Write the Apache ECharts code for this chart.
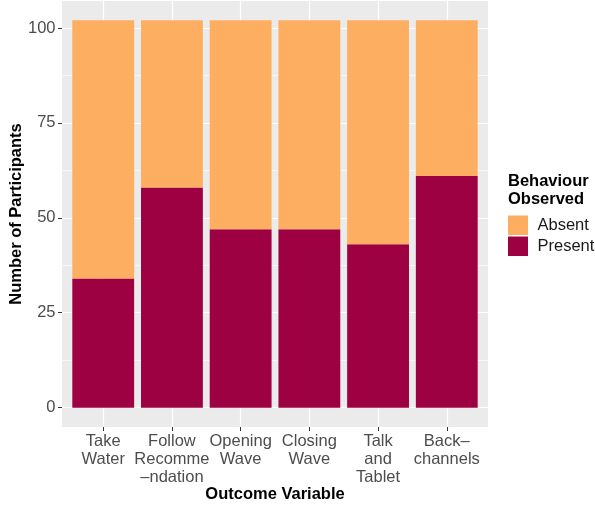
<!DOCTYPE html>
<html><head><meta charset="utf-8">
<script src="https://cdn.jsdelivr.net/npm/echarts@6/dist/echarts.min.js"></script>
<style>html,body{margin:0;padding:0;background:#fff}#c{width:595px;height:505px}</style>
</head><body><div id="c"></div>
<script>
const categories = ["Take\nWater", "Follow\nRecomme\n–ndation", "Opening\nWave", "Closing\nWave", "Talk\nand\nTablet", "Back–\nchannels"];
const present = [34, 58, 47, 47, 43, 61];
const absent = [68, 44, 55, 55, 59, 41];
const yMajorTicks = [0, 25, 50, 75, 100];
const yMinorTicks = [12.5, 37.5, 62.5, 87.5];
const xTicks = [0, 1, 2, 3, 4, 5];
const seriesNames = ["Absent", "Present"];
const colors = {Absent: "#FDAE61", Present: "#9E0142"};

const FONT = "'Liberation Sans', Arial, sans-serif";
const FS = 16.5;
const chart = echarts.init(document.getElementById('c'), null, {renderer: 'canvas'});
const gridLeft = 62, gridTop = 1, gridWidth = 426, gridHeight = 426;
const unit = gridWidth / 6.2;
const yMin = -5.1, yMax = 107.1;

chart.setOption({
  animation: false,
  textStyle: {fontFamily: FONT},
  grid: [
    {left: gridLeft, top: gridTop, width: gridWidth, height: gridHeight, show: true, backgroundColor: '#EBEBEB', borderWidth: 0,
      containLabel: false, outerBoundsMode: 'none'},
    {left: gridLeft + 0.1 * unit, top: gridTop, width: 6 * unit, height: gridHeight, show: false,
      containLabel: false, outerBoundsMode: 'none'}
  ],
  title: {text: 'Behaviour\nObserved', left: 503, top: 166.75,
    textStyle: {fontFamily: FONT, fontSize: FS, fontWeight: 'bold', color: '#000', lineHeight: 18.5}},
  legend: {data: seriesNames, orient: 'vertical', left: 503, top: 210.5, itemWidth: 20, itemHeight: 19.5, itemGap: 1.5,
    icon: 'rect', selectedMode: false,
    textStyle: {fontFamily: FONT, fontSize: FS, color: '#1a1a1a', padding: [0, 0, 0, 4.5]}},
  xAxis: [
    {gridIndex: 0, type: 'value', min: -0.6, max: 5.6,
      name: 'Outcome Variable', nameLocation: 'middle', nameGap: 58.5, nameMoveOverlap: false,
      nameTextStyle: {fontFamily: FONT, fontSize: FS, fontWeight: 'bold', color: '#000'},
      axisLine: {show: false, onZero: false},
      axisTick: {show: true, length: 4, customValues: xTicks, lineStyle: {color: '#333', width: 1}},
      axisLabel: {customValues: xTicks, margin: 6, fontFamily: FONT, fontSize: FS, color: '#4D4D4D', lineHeight: 17.8,
        formatter: v => categories[Math.round(v)]},
      splitLine: {show: true, lineStyle: {color: '#fff', width: 1.2}}},
    {gridIndex: 1, type: 'category', data: categories, show: false, boundaryGap: true}
  ],
  yAxis: [
    {gridIndex: 0, type: 'value', min: yMin, max: yMax,
      name: 'Number of Participants', nameLocation: 'middle', nameGap: 37.5, nameMoveOverlap: false,
      nameTextStyle: {fontFamily: FONT, fontSize: FS, fontWeight: 'bold', color: '#000'},
      axisLine: {show: false, onZero: false},
      axisTick: {show: true, length: 4, customValues: yMajorTicks, lineStyle: {color: '#333', width: 1}},
      axisLabel: {customValues: yMajorTicks, margin: 6.5, fontFamily: FONT, fontSize: FS, color: '#4D4D4D'},
      splitLine: {show: true, lineStyle: {color: '#fff', width: 1.2}}},
    {gridIndex: 0, type: 'value', min: yMin, max: yMax, position: 'left',
      axisLine: {show: false, onZero: false},
      axisTick: {show: false, customValues: yMinorTicks},
      axisLabel: {show: false, customValues: yMinorTicks},
      splitLine: {show: true, lineStyle: {color: '#fff', width: 0.6}}},
    {gridIndex: 1, type: 'value', min: yMin, max: yMax, show: false, splitLine: {show: false}}
  ],
  series: [
    {name: 'Present', type: 'bar', stack: 'a', xAxisIndex: 1, yAxisIndex: 2, barWidth: '90%',
      itemStyle: {color: colors.Present}, data: present},
    {name: 'Absent', type: 'bar', stack: 'a', xAxisIndex: 1, yAxisIndex: 2, barWidth: '90%',
      itemStyle: {color: colors.Absent}, data: absent}
  ]
});
</script></body></html>
